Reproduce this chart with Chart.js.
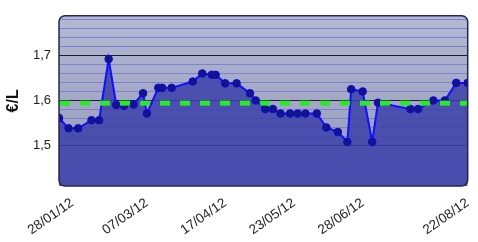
<!DOCTYPE html>
<html>
<head>
<meta charset="utf-8">
<script src="https://cdn.jsdelivr.net/npm/chart.js@4.4.1/dist/chart.umd.min.js"></script>
<style>
html,body{margin:0;padding:0;background:#fff;}
#wrap{width:478px;height:242px;}
</style>
</head>
<body>
<div id="wrap"><canvas id="c" width="478" height="242"></canvas></div>
<script>
// ---- data ----
const dates = ["21/01/12","26/01/12","31/01/12","07/02/12","11/02/12","16/02/12","20/02/12","24/02/12","29/02/12","05/03/12",
  "07/03/12","13/03/12","15/03/12","20/03/12","31/03/12","05/04/12","10/04/12","12/04/12","17/04/12","23/04/12",
  "30/04/12","03/05/12","08/05/12","12/05/12","16/05/12","21/05/12","25/05/12","29/05/12","04/06/12","09/06/12",
  "15/06/12","20/06/12","22/06/12","28/06/12","03/07/12","06/07/12","23/07/12","27/07/12","04/08/12","10/08/12",
  "16/08/12","22/08/12"];
const prices = [1.561,1.538,1.538,1.556,1.556,1.692,1.590,1.588,1.591,1.616,
  1.571,1.628,1.628,1.628,1.642,1.660,1.657,1.657,1.638,1.638,
  1.616,1.600,1.581,1.581,1.571,1.571,1.571,1.571,1.571,1.540,
  1.530,1.508,1.625,1.620,1.508,1.595,1.581,1.581,1.600,1.600,
  1.639,1.639];
const averagePrice = 1.594;
const xTickLabels = ["28/01/12","07/03/12","17/04/12","23/05/12","28/06/12","22/08/12"];
const yTickValues = [1.5, 1.6, 1.7];
const yTickLabels = ["1,5", "1,6", "1,7"];
const yMin = 1.41, yMax = 1.788;
const yTitle = "€/L";

// ---- helpers ----
function dayNum(s){
  const p = s.split('/');
  return Math.round(Date.UTC(2000 + (+p[2]), (+p[1]) - 1, +p[0]) / 86400000);
}
const xs = dates.map(dayNum);
const xMin = xs[0], xMax = xs[xs.length - 1];
const tickDays = xTickLabels.map(dayNum);
const points = xs.map((x, i) => ({x: x, y: prices[i]}));
const avgPts = [{x: xMin, y: averagePrice}, {x: xMax, y: averagePrice}];

const minorTicks = [];
for (let k = 71; k <= 89; k++) minorTicks.push(Math.round(k * 2) / 100);

const FONT = "'Liberation Sans', Arial, Helvetica, sans-serif";

const plotDeco = {
  id: 'plotDeco',
  beforeDraw(chart){
    const a = chart.chartArea, ctx = chart.ctx;
    ctx.save();
    const g = ctx.createLinearGradient(0, a.top, 0, a.bottom);
    g.addColorStop(0, '#b3b8d4');
    g.addColorStop(1, '#9398ba');
    ctx.fillStyle = g;
    ctx.beginPath();
    ctx.roundRect(a.left, a.top, a.right - a.left, a.bottom - a.top, 6);
    ctx.fill();
    ctx.restore();
  },
  afterDraw(chart){
    const a = chart.chartArea, ctx = chart.ctx;
    ctx.save();
    ctx.strokeStyle = '#25284e';
    ctx.lineWidth = 1.5;
    ctx.beginPath();
    ctx.roundRect(a.left, a.top, a.right - a.left, a.bottom - a.top, 6);
    ctx.stroke();
    ctx.restore();
  }
};

new Chart(document.getElementById('c'), {
  type: 'line',
  data: {
    datasets: [
      {
        label: 'moyenne',
        data: avgPts,
        borderColor: '#2be82b',
        borderWidth: 5,
        borderDash: [10, 10],
        borderDashOffset: -1,
        pointRadius: 0,
        fill: false,
        order: 0
      },
      {
        label: 'prix',
        data: points,
        borderColor: '#1010ff',
        borderWidth: 2,
        backgroundColor: 'rgba(60,64,168,0.85)',
        fill: 'start',
        tension: 0,
        pointRadius: 3.8,
        pointBackgroundColor: '#14148a',
        pointBorderColor: '#0a0ad0',
        pointBorderWidth: 1,
        order: 1
      }
    ]
  },
  options: {
    responsive: false,
    animation: false,
    devicePixelRatio: 1,
    layout: {padding: {top: 10, right: 8, left: 0, bottom: 0}},
    plugins: {legend: {display: false}, tooltip: {enabled: false}},
    scales: {
      x: {
        type: 'linear',
        min: xMin,
        max: xMax,
        afterBuildTicks(scale){ scale.ticks = tickDays.map(v => ({value: v})); },
        afterFit(scale){ scale.height = 56; },
        grid: {display: false},
        border: {display: false},
        ticks: {
          autoSkip: false,
          minRotation: 35,
          maxRotation: 35,
          padding: 1,
          color: '#222',
          font: {family: FONT, size: 13.5},
          callback(v){ const i = tickDays.indexOf(v); return i >= 0 ? xTickLabels[i] : ''; }
        }
      },
      y: {
        min: yMin,
        max: yMax,
        afterBuildTicks(scale){ scale.ticks = minorTicks.map(v => ({value: v})); },
        afterFit(scale){ scale.width = 59; },
        border: {display: false},
        grid: {
          drawTicks: false,
          lineWidth: 1,
          color(c){ return yTickValues.some(v => Math.abs(v - c.tick.value) < 1e-6) ? '#1e1e2a' : '#7d82cc'; }
        },
        ticks: {
          autoSkip: false,
          padding: 8,
          color: '#222',
          font: {family: FONT, size: 13},
          callback(v){
            const i = yTickValues.findIndex(t => Math.abs(t - v) < 1e-6);
            return i >= 0 ? yTickLabels[i] : '';
          }
        },
        title: {
          display: true,
          text: yTitle,
          color: '#111',
          font: {family: FONT, size: 16, weight: 'bold'},
          padding: {top: 4, bottom: 0}
        }
      }
    }
  },
  plugins: [plotDeco]
});
</script>
</body>
</html>
